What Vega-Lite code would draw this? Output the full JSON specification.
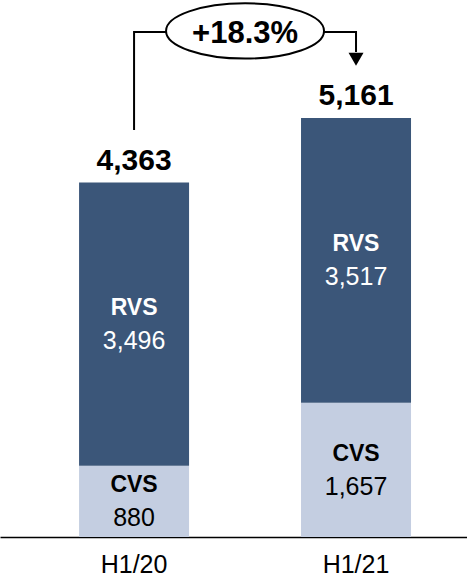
{
  "$schema": "https://vega.github.io/schema/vega-lite/v6.json",
  "width": 467,
  "height": 537,
  "autosize": {"type": "none"},
  "padding": {"left": 0, "right": 0, "top": 0, "bottom": 40},
  "background": "white",
  "config": {
    "view": {"stroke": null},
    "text": {"font": "Liberation Sans"},
    "axisX": {
      "title": null, "labelAngle": 0, "ticks": false,
      "domainColor": "black", "domainWidth": 1.5,
      "labelFont": "Liberation Sans", "labelFontSize": 25, "labelColor": "black",
      "labelBaseline": "alphabetic", "labelPadding": 35
    }
  },
  "datasets": {
    "segments": [
      {"period": "H1/20", "seg": "CVS", "value": 880, "ord": 1},
      {"period": "H1/20", "seg": "RVS", "value": 3496, "ord": 2},
      {"period": "H1/21", "seg": "CVS", "value": 1657, "ord": 1},
      {"period": "H1/21", "seg": "RVS", "value": 3517, "ord": 2}
    ],
    "totals": [
      {"period": "H1/20", "total": 4363},
      {"period": "H1/21", "total": 5161}
    ],
    "connector": [
      {"period": "H1/20", "v": 5026, "o": 1},
      {"period": "H1/20", "v": 6236, "o": 2},
      {"period": "H1/21", "v": 6236, "o": 3},
      {"period": "H1/21", "v": 5989, "o": 4}
    ],
    "growth": [{"period": "H1/20", "v": 6248, "label": "+18.3%"}],
    "arrow": [{"period": "H1/21", "v": 5897}]
  },
  "layer": [
    {
      "data": {"name": "segments"},
      "mark": {"type": "bar", "width": 110},
      "encoding": {
        "x": {
          "field": "period", "type": "nominal", "sort": null,
          "scale": {"paddingInner": 0, "paddingOuter": 0.052, "align": 1},
          "axis": {
            "title": null, "labelAngle": 0, "ticks": false,
            "domainColor": "black", "domainWidth": 1.5,
            "labelFont": "Liberation Sans", "labelFontSize": 25, "labelColor": "black",
            "labelBaseline": "alphabetic", "labelPadding": 35
          }
        },
        "y": {"field": "value", "type": "quantitative", "stack": "zero",
              "scale": {"domain": [0, 6630], "nice": false}, "axis": null},
        "color": {"field": "seg", "type": "nominal",
                  "scale": {"domain": ["CVS", "RVS"], "range": ["#C4CEE1", "#3B5679"]},
                  "legend": null},
        "order": {"field": "ord"}
      }
    },
    {
      "data": {"name": "segments"},
      "mark": {"type": "text", "fontWeight": "bold", "fontSize": 23, "baseline": "alphabetic", "dy": -9},
      "encoding": {
        "x": {"field": "period", "type": "nominal", "sort": null, "bandPosition": 0.5},
        "y": {"field": "value", "type": "quantitative", "stack": "zero", "bandPosition": 0.5,
              "scale": {"domain": [0, 6630], "nice": false}, "axis": null},
        "detail": {"field": "seg"},
        "order": {"field": "ord"},
        "text": {"field": "seg"},
        "color": {"condition": {"test": "datum.seg === 'RVS'", "value": "white"}, "value": "black"}
      }
    },
    {
      "data": {"name": "segments"},
      "mark": {"type": "text", "fontSize": 25, "baseline": "alphabetic", "dy": 25},
      "encoding": {
        "x": {"field": "period", "type": "nominal", "sort": null, "bandPosition": 0.5},
        "y": {"field": "value", "type": "quantitative", "stack": "zero", "bandPosition": 0.5,
              "scale": {"domain": [0, 6630], "nice": false}, "axis": null},
        "detail": {"field": "seg"},
        "order": {"field": "ord"},
        "text": {"field": "value", "type": "quantitative", "format": ",d"},
        "color": {"condition": {"test": "datum.seg === 'RVS'", "value": "white"}, "value": "black"}
      }
    },
    {
      "data": {"name": "totals"},
      "mark": {"type": "text", "fontWeight": "bold", "fontSize": 30, "baseline": "alphabetic", "dy": -14, "color": "black"},
      "encoding": {
        "x": {"field": "period", "type": "nominal", "sort": null, "bandPosition": 0.5},
        "y": {"field": "total", "type": "quantitative",
              "scale": {"domain": [0, 6630], "nice": false}, "axis": null},
        "text": {"field": "total", "type": "quantitative", "format": ",d"}
      }
    },
    {
      "data": {"name": "connector"},
      "mark": {"type": "line", "color": "black", "strokeWidth": 2, "interpolate": "linear"},
      "encoding": {
        "x": {"field": "period", "type": "nominal", "sort": null, "bandPosition": 0.5},
        "y": {"field": "v", "type": "quantitative",
              "scale": {"domain": [0, 6630], "nice": false}, "axis": null},
        "order": {"field": "o"}
      }
    },
    {
      "data": {"name": "arrow"},
      "mark": {"type": "point", "shape": "triangle-down", "size": 225, "filled": true, "color": "black", "opacity": 1},
      "encoding": {
        "x": {"field": "period", "type": "nominal", "sort": null, "bandPosition": 0.5},
        "y": {"field": "v", "type": "quantitative",
              "scale": {"domain": [0, 6630], "nice": false}, "axis": null}
      }
    },
    {
      "data": {"name": "growth"},
      "mark": {"type": "point", "shape": "M-1,0A1,0.35,0,1,1,1,0A1,0.35,0,1,1,-1,0Z",
               "size": 24964, "filled": true, "fill": "white", "stroke": "black", "strokeWidth": 2, "opacity": 1},
      "encoding": {
        "x": {"field": "period", "type": "nominal", "sort": null, "bandPosition": 1},
        "y": {"field": "v", "type": "quantitative",
              "scale": {"domain": [0, 6630], "nice": false}, "axis": null}
      }
    },
    {
      "data": {"name": "growth"},
      "mark": {"type": "text", "fontWeight": "bold", "fontSize": 31, "baseline": "middle", "color": "black", "dy": 3},
      "encoding": {
        "x": {"field": "period", "type": "nominal", "sort": null, "bandPosition": 1},
        "y": {"field": "v", "type": "quantitative",
              "scale": {"domain": [0, 6630], "nice": false}, "axis": null},
        "text": {"field": "label"}
      }
    }
  ]
}
